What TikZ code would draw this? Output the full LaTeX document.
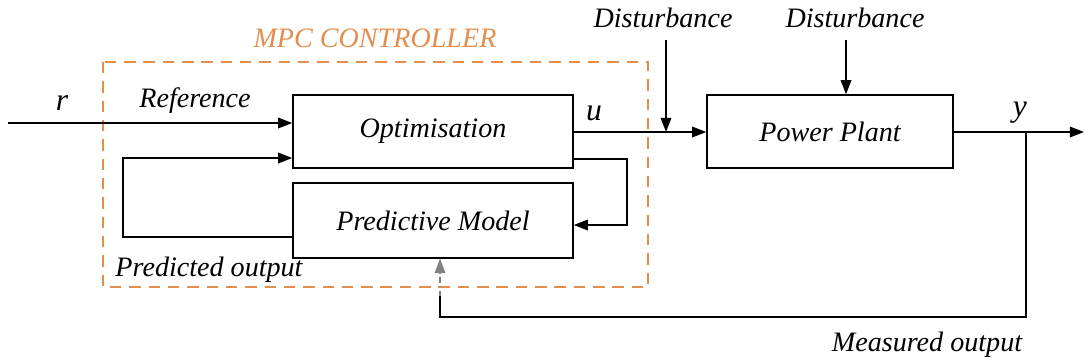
\documentclass[tikz,border=0pt]{standalone}
\usepackage{fontspec}
\setmainfont{Liberation Serif}[ItalicFont={Liberation Serif Italic}]
\usetikzlibrary{arrows.meta}
\definecolor{mpcorange}{RGB}{228,142,78}
\tikzset{
  lbl/.style={font=\rmfamily\itshape\fontsize{16}{19}\selectfont, inner sep=1pt},
  big/.style={font=\rmfamily\itshape\fontsize{18}{20}\selectfont},
  block/.style={draw, line width=0.9pt, lbl, minimum height=1.46cm},
  wire/.style={line width=0.9pt, -{Triangle[length=8pt,width=6pt]}},
}
\begin{document}
\begin{tikzpicture}[x=0.02cm, y=-0.02cm]
    \useasboundingbox (0, 0) rectangle (1084, 363);
    % blocks
    \node (opt) [block, minimum width=5.6cm] at (433, 131.5) {Optimisation};
    \node (pm) [block, minimum width=5.6cm, minimum height=1.5cm] at (433, 220.5) {Predictive Model};
    \node (plant) [block, minimum width=4.92cm] at (830, 131.5) {Power Plant};
    % mpc frame
    \draw[mpcorange, line width=1.1pt, dash pattern=on 6.5pt off 4.5pt]
          (103, 62) rectangle (648, 287);
    \node (mpc) [lbl, text=mpcorange] at (375, 38) {MPC CONTROLLER};
    % labels
    \draw (62, 103) node (r) [lbl, big] {r}
          (195, 101) node (ref) [lbl] {Reference}
          (594, 113) node (u) [lbl, big] {u}
          (1020, 113) node (y) [lbl, big] {y}
          (209, 270) node (pred) [lbl] {Predicted output}
          (927, 345) node (meas) [lbl] {Measured output}
          (663, 18) node (d1) [lbl] {Disturbance}
          (855, 18) node (d2) [lbl] {Disturbance};
    % free ends
    \coordinate (rin) at (8, 123);
    \coordinate (yout) at (1084, 132);
    \coordinate (j1) at (666, 132);
    \coordinate (j2) at (1026, 132);
    % signals
    \draw[wire] (rin) -- (opt.west |- rin);
    \draw[wire] (pm.west |- 0, 237) -| (123, 158) -- (opt.west |- 0, 158);
    \draw[wire] (opt.east |- 0, 159) -| (627, 225) -- (pm.east |- 0, 225);
    \draw[wire] (opt.east |- j1) -- (plant.west |- j1);
    \draw[wire] (j1 |- 0, 40) -- (j1);
    \draw[wire] (plant.north -| 846, 0) ++(0, -54) -- (plant.north -| 846, 0);
    \draw[wire] (plant.east |- j2) -- (yout);
    \draw[line width=0.9pt] (j2) -- (1026, 317) -| (440, 296);
    \draw[wire, gray, line width=0.6pt, dash dot] (440, 296) -- (pm.south -| 440, 0);
\end{tikzpicture}
\end{document}
